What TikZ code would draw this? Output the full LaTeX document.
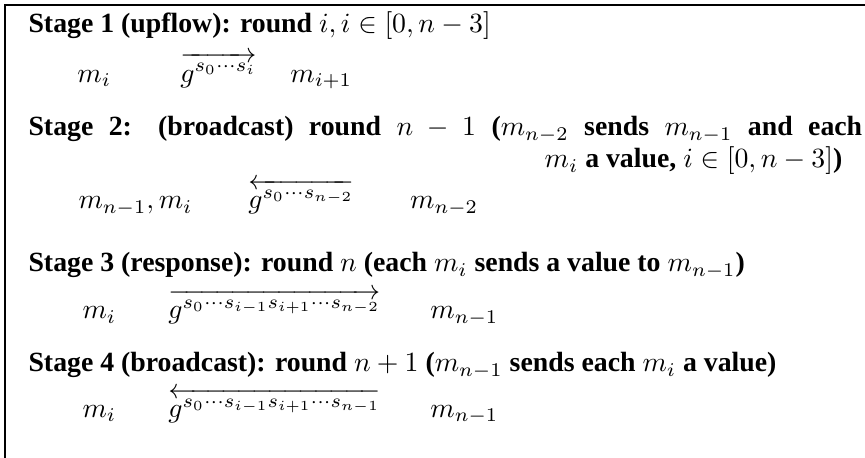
\documentclass[tikz,border=0pt]{standalone}
\usepackage{amsmath,amssymb}
\usepackage[no-math]{fontspec}
\setmainfont{Liberation Serif}
\usepackage{tikz}
\usetikzlibrary{positioning}

\begin{document}
\begin{tikzpicture}[
    stagetxt/.style={anchor=base west, inner sep=0pt, font=\bfseries},
    stageend/.style={anchor=base east, inner sep=0pt, font=\bfseries},
    msgtxt/.style={anchor=base west, inner sep=0pt},
    frame/.style={line width=0.7pt},
]
\useasboundingbox (0,0) rectangle (10.94,-5.79);

% frame (top and left only)
\draw[frame] (0.063,-5.79) -- (0.063,-0.063) -- (10.94,-0.063);

% Stage 1
\node[stagetxt] (st1) at (0.354,-0.417) {Stage 1 (upflow): round $i, i\in[0,n-3]$};
\node[msgtxt] (st1a) at (0.973,-1.037) {$m_i$};
\node[msgtxt] (st1g) at (2.275,-1.037) {$\overrightarrow{g^{s_0\cdots s_i}}$};
\node[msgtxt] (st1b) at (3.666,-1.037) {$m_{i+1}$};

% Stage 2
\node[stagetxt] (st2) at (0.354,-1.719)
  {\makebox[300pt][s]{Stage 2: (broadcast) round $n-1$ ($m_{n-2}$ sends $m_{n-1}$ and each}};
\node[stageend] (st2x) at (10.66,-2.124) {$m_i$ a value, $i\in[0,n-3]$)};
\node[msgtxt] (st2a) at (0.986,-2.642) {$m_{n-1}, m_i$};
\node[msgtxt] (st2g) at (3.135,-2.642) {$\overleftarrow{g^{s_0\cdots s_{n-2}}}$};
\node[msgtxt] (st2b) at (5.18,-2.642) {$m_{n-2}$};

% Stage 3
\node[stagetxt] (st3) at (0.354,-3.439) {Stage 3 (response): round $n$ (each $m_i$ sends a value to $m_{n-1}$)};
\node[msgtxt] (st3a) at (1.037,-4.033) {$m_i$};
\node[msgtxt] (st3g) at (2.124,-4.033) {$\overrightarrow{g^{s_0\cdots s_{i-1}s_{i+1}\cdots s_{n-2}}}$};
\node[msgtxt] (st3b) at (5.436,-4.033) {$m_{n-1}$};

% Stage 4
\node[stagetxt] (st4) at (0.354,-4.703) {Stage 4 (broadcast): round $n+1$ ($m_{n-1}$ sends each $m_i$ a value)};
\node[msgtxt] (st4a) at (1.037,-5.284) {$m_i$};
\node[msgtxt] (st4g) at (2.124,-5.284) {$\overleftarrow{g^{s_0\cdots s_{i-1}s_{i+1}\cdots s_{n-1}}}$};
\node[msgtxt] (st4b) at (5.436,-5.284) {$m_{n-1}$};

\end{tikzpicture}
\end{document}
